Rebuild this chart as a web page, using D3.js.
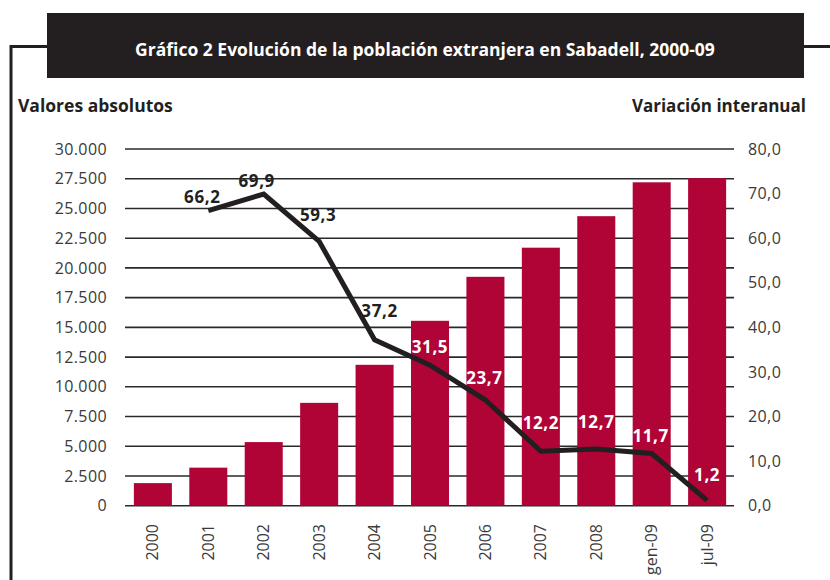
<!DOCTYPE html>
<html>
<head>
<meta charset="utf-8">
<script src="https://cdn.jsdelivr.net/npm/d3@7"></script>
<style>
body { margin: 0; background: #fff; }
svg { display: block; font-family: "Open Sans", sans-serif; }
</style>
</head>
<body>
<div id="chart"></div>
<script>

var years = ["2000","2001","2002","2003","2004","2005","2006","2007","2008","gen-09","jul-09"]
var population = [1900, 3200, 5350, 8650, 11850, 15550, 19250, 21700, 24350, 27200, 27550]
var variation = [null, 66.2, 69.9, 59.3, 37.2, 31.5, 23.7, 12.2, 12.7, 11.7, 1.2]
var leftTicks = [0, 2500, 5000, 7500, 10000, 12500, 15000, 17500, 20000, 22500, 25000, 27500, 30000]
var rightTicks = [0, 10, 20, 30, 40, 50, 60, 70, 80]

// label placement around each point (dx, dy of baseline)
var labelNudge = [null, [-6,-8], [-7,-7], [-1,-20], [5,-23], [0,-12], [-1,-16], [0,-22], [0,-21], [-1,-12], [0,-19]]

var w = 830, h = 580
var dark = "#231f20", red = "#b00437"

var es = d3.formatLocale({decimal: ",", thousands: ".", grouping: [3], currency: ["", "€"]})
var fmtLeft = es.format(",.0f")
var fmtRight = es.format(".1f")

var svg = d3.select("#chart").append("svg")
	.attr("width", w)
	.attr("height", h)

// frame
svg.append("path")
	.attr("d", "M47,46.5H11V580M804,46.5H830")
	.attr("fill", "none")
	.attr("stroke", dark)
	.attr("stroke-width", 3)

// title box
svg.append("rect")
	.attr("x", 47).attr("y", 13)
	.attr("width", 757).attr("height", 65)
	.attr("fill", dark)

svg.append("text")
	.attr("x", 425).attr("y", 56)
	.attr("text-anchor", "middle")
	.attr("fill", "#fff")
	.attr("font-weight", "bold")
	.attr("font-size", 17.5)
	.text("Gráfico 2 Evolución de la población extranjera en Sabadell, 2000-09")

svg.append("text")
	.attr("x", 18).attr("y", 112)
	.attr("fill", dark)
	.attr("font-weight", "bold")
	.attr("font-size", 17.5)
	.text("Valores absolutos")

svg.append("text")
	.attr("x", 806).attr("y", 112)
	.attr("text-anchor", "end")
	.attr("fill", dark)
	.attr("font-weight", "bold")
	.attr("font-size", 17)
	.text("Variación interanual")

var x = d3.scaleBand()
	.domain(years)
	.range([125, 735])
	.paddingInner(0.314)
	.paddingOuter(0.16)

var yL = d3.scaleLinear().domain([0, 30000]).range([505.7, 149])
var yR = d3.scaleLinear().domain([0, 80]).range([505.7, 149])

// gridlines
svg.append("g")
	.selectAll("line")
	.data(leftTicks)
	.enter().append("line")
	.attr("x1", 125).attr("x2", 734)
	.attr("y1", function(d){ return yL(d) })
	.attr("y2", function(d){ return yL(d) })
	.attr("stroke", "#2a2a2a")
	.attr("stroke-width", 1.6)

// axes
var axL = svg.append("g")
	.attr("transform", "translate(125,0)")
	.call(d3.axisLeft(yL).tickValues(leftTicks).tickSize(0).tickPadding(18).tickFormat(fmtLeft))
var axR = svg.append("g")
	.attr("transform", "translate(735,0)")
	.call(d3.axisRight(yR).tickValues(rightTicks).tickSize(0).tickPadding(13).tickFormat(fmtRight))

svg.selectAll(".domain").remove()
svg.selectAll(".tick text")
	.attr("font-family", "Open Sans")
	.attr("font-size", 16)
	.attr("fill", "#3a3a3a")
	.attr("letter-spacing", 0.4)

// bars
svg.append("g")
	.selectAll("rect")
	.data(population)
	.enter().append("rect")
	.attr("x", function(d, i){ return x(years[i]) })
	.attr("y", function(d){ return yL(d) })
	.attr("width", x.bandwidth())
	.attr("height", function(d){ return yL(0) - yL(d) })
	.attr("fill", red)

// x labels
svg.append("g")
	.selectAll("text")
	.data(years)
	.enter().append("text")
	.attr("transform", function(d){ return "translate(" + (x(d) + x.bandwidth() / 2) + ",524) rotate(-90)" })
	.attr("dy", "0.35em")
	.attr("text-anchor", "end")
	.attr("font-size", 16)
	.attr("fill", "#3a3a3a")
	.text(function(d){ return d })

// line
var pts = variation.map(function(v, i){ return {year: years[i], v: v, pop: population[i], i: i} })
	.filter(function(d){ return d.v != null })

var line = d3.line()
	.x(function(d){ return x(d.year) + x.bandwidth() / 2 })
	.y(function(d){ return yR(d.v) })

svg.append("path")
	.datum(pts)
	.attr("d", line)
	.attr("fill", "none")
	.attr("stroke", dark)
	.attr("stroke-width", 5)

// value labels
svg.append("g")
	.selectAll("text")
	.data(pts)
	.enter().append("text")
	.attr("x", function(d){ return x(d.year) + x.bandwidth() / 2 + labelNudge[d.i][0] })
	.attr("y", function(d){ return yR(d.v) + labelNudge[d.i][1] })
	.attr("text-anchor", "middle")
	.attr("font-weight", "bold")
	.attr("font-size", 17)
	.attr("letter-spacing", 0.6)
	.attr("fill", function(d){
		var top = yR(d.v) + labelNudge[d.i][1] - 12
		return top > yL(d.pop) ? "#fff" : dark
	})
	.text(function(d){ return fmtRight(d.v) })

</script>
</body>
</html>
